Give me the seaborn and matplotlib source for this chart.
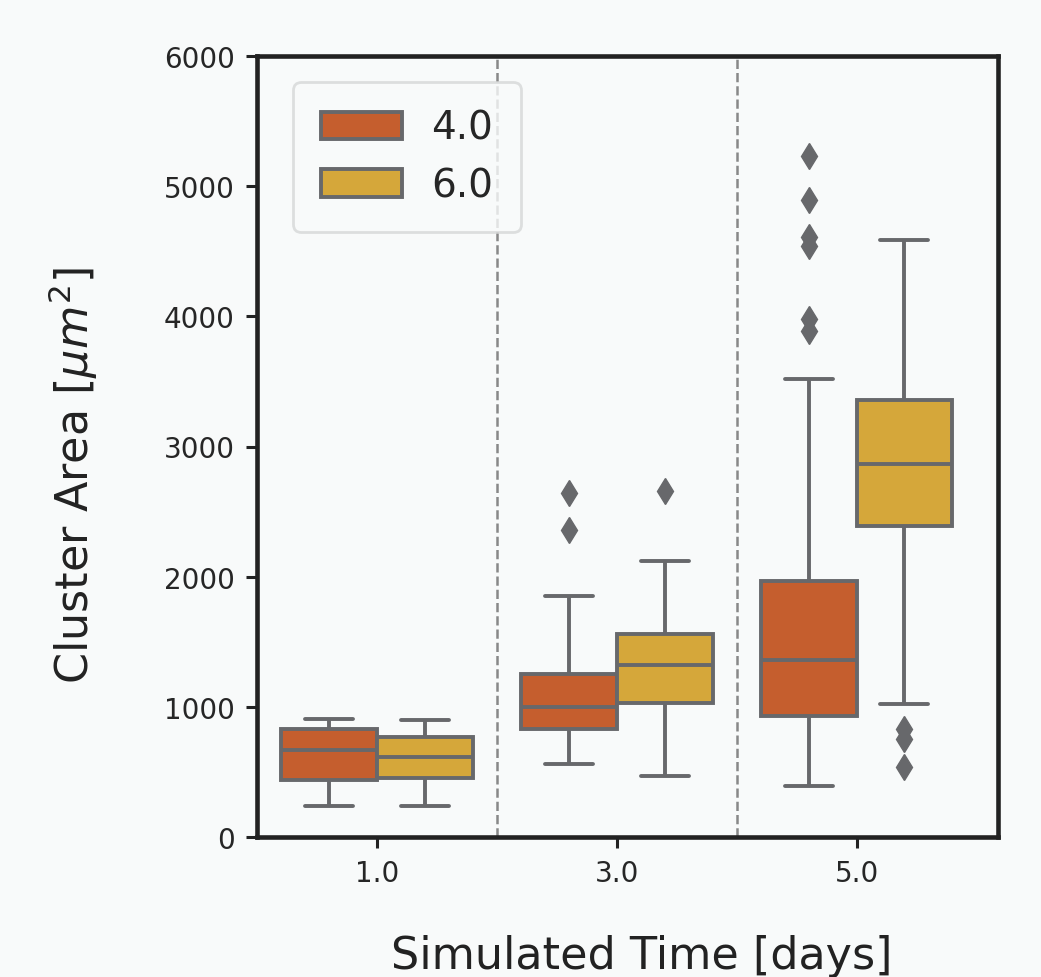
import matplotlib
matplotlib.use('Agg')
import matplotlib.pyplot as plt
import pandas as pd
import seaborn as sb

# box summaries, order: (1.0, 4.0), (1.0, 6.0), (3.0, 4.0), (3.0, 6.0), (5.0, 4.0), (5.0, 6.0)
times = ['1.0', '1.0', '3.0', '3.0', '5.0', '5.0']
sizes = ['4.0', '6.0', '4.0', '6.0', '4.0', '6.0']
lo = [238, 238, 561, 469, 392, 1022]
q1 = [438, 453, 830, 1029, 930, 2389]
med = [668, 615, 999, 1321, 1360, 2865]
q3 = [830, 768, 1252, 1559, 1970, 3357]
hi = [906, 899, 1851, 2120, 3520, 4586]
outliers = [[], [], [2643, 2358], [2658], [5231, 4893, 4609, 4540, 3979, 3887], [830, 753, 538]]

rows = []
for i in range(len(times)):
    vals = [lo[i]] + [q1[i]] * 20 + [med[i]] * 20 + [q3[i]] * 20 + [hi[i]] + outliers[i]
    for v in vals:
        rows.append({'time': times[i], 'size': sizes[i], 'area': v})
df = pd.DataFrame(rows)

bg = '#f8fafa'
sb.set_style('ticks')
plt.rcParams['font.family'] = ['DejaVu Sans']
fig = plt.figure(figsize=(10.41, 9.78), dpi=100, facecolor=bg)
ax = fig.add_axes([257 / 1041, 1 - 838 / 978, 741 / 1041, 781 / 978])
ax.set_facecolor(bg)

sb.boxplot(x='time', y='area', hue='size', data=df, ax=ax,
           palette=['#c55e2e', '#d5a73a'], saturation=1, linecolor='#67686b',
           linewidth=2.8, width=0.8,
           flierprops=dict(marker='d', markersize=13, markerfacecolor='#67686b',
                           markeredgecolor='#67686b'))

for xv in [0.5, 1.5]:
    ax.axvline(xv, color='#888888', linestyle='--', linewidth=1.8, zorder=0)

ax.set_xlim(-0.5, 2.59)
ax.set_ylim(0, 6000)
ax.set_yticks([0, 1000, 2000, 3000, 4000, 5000, 6000])
ax.tick_params(axis='both', labelsize=20, width=2.2, length=8, color='#222222', pad=8)
for s in ax.spines.values():
    s.set_linewidth(3.3)
    s.set_color('#222222')

ax.set_xlabel('Simulated Time [days]', fontsize=32, labelpad=34, color='#222222', x=0.519)
ax.set_ylabel(r'Cluster Area [$\mu m^2$]', fontsize=32, labelpad=46, color='#222222', y=0.464)

leg = ax.legend(loc='upper left', fontsize=28, frameon=True, borderpad=0.7,
                handlelength=2.1, handleheight=0.72, handletextpad=0.75,
                labelspacing=0.5, borderaxespad=0,
                bbox_to_anchor=(0.049, 0.967))
leg.get_frame().set_edgecolor('#d6d8d8')
leg.get_frame().set_linewidth(2)
leg.get_frame().set_facecolor(bg)

fig.savefig('out.png', dpi=100, facecolor=bg)
